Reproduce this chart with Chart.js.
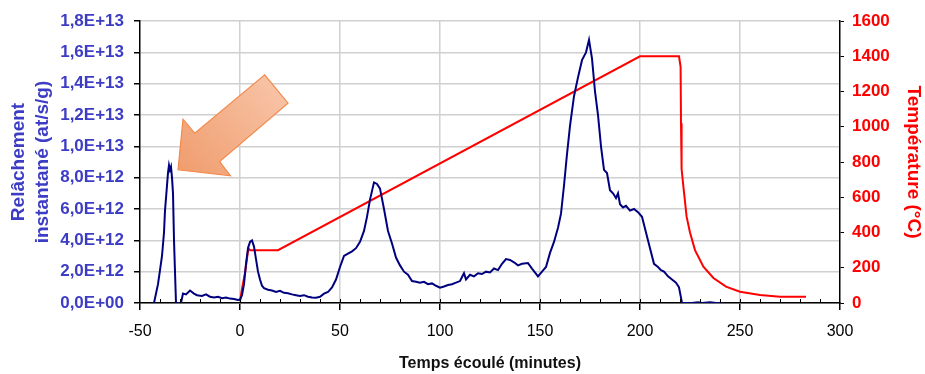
<!DOCTYPE html>
<html lang="fr">
<head>
<meta charset="UTF-8">
<title>Relâchement et température</title>
<script src="https://cdn.jsdelivr.net/npm/chart.js"></script>
<style>
  body { margin: 0; background: #fff; }
  canvas { display: block; }
</style>
</head>
<body>
<canvas id="chart" width="925" height="374"></canvas>
<script>
// temps (minutes) et relâchement instantané (at/s/g)
const tempsRel = [-43, -41, -40, -39, -38, -37.5, -36.5, -36, -35.5, -35, -34.5, -34, -33.5, -33, -32,
  -29.5, -28.5, -27, -25, -23, -21.5, -19, -17, -15, -13, -11, -9, -7, -5, -3, -1,
  0, 1, 2, 3, 4, 5, 6, 7, 8, 9, 10, 11, 12, 14, 16, 18, 20, 22, 24, 26, 28, 30, 32, 34, 36, 38,
  40, 42, 44, 46, 48, 50, 52, 54, 56, 58, 60, 62, 63.5, 65, 67, 68.5, 70, 72, 74, 76, 78,
  80, 82, 84, 86, 88, 90, 92, 94, 96, 98, 100, 102, 104, 106, 108, 110, 112, 113, 115, 117, 119,
  121, 123, 125, 127, 129, 131, 133, 135, 137, 139, 141, 144, 146, 149, 151, 153, 155, 157, 159,
  160.5, 162, 163.5, 165, 167, 169, 171, 173, 174.5, 176, 177.5, 179, 180.5, 182, 183.5, 185,
  186.5, 188, 189, 190, 191.5, 193, 195, 197, 199, 201, 203, 205, 207, 209, 210.5, 212, 214,
  216, 218, 219.5, 221, 226, 229, 231, 235, 238, 242];
const relachement = [0, 1.2e12, 2.1e12, 3.0e12, 4.5e12, 5.9e12, 7.5e12, 8.3e12, 8.8e12, 8.5e12, 8.7e12, 8.0e12, 7.0e12, 4.0e12, 0,
  0, 0.6e12, 0.55e12, 0.8e12, 0.6e12, 0.5e12, 0.45e12, 0.55e12, 0.4e12, 0.35e12, 0.4e12, 0.3e12, 0.35e12, 0.28e12, 0.25e12, 0.2e12,
  0.22e12, 0.5e12, 1.2e12, 2.5e12, 3.5e12, 3.9e12, 4.0e12, 3.6e12, 2.8e12, 2.0e12, 1.5e12, 1.1e12, 0.95e12, 0.85e12, 0.8e12, 0.7e12,
  0.78e12, 0.65e12, 0.62e12, 0.55e12, 0.5e12, 0.45e12, 0.5e12, 0.4e12, 0.35e12, 0.34e12,
  0.4e12, 0.6e12, 0.7e12, 1.0e12, 1.5e12, 2.3e12, 3.0e12, 3.15e12, 3.3e12, 3.5e12, 3.9e12, 4.6e12, 5.5e12, 6.6e12, 7.7e12, 7.6e12,
  7.3e12, 6.0e12, 4.6e12, 3.8e12, 2.9e12,
  2.4e12, 2.0e12, 1.8e12, 1.4e12, 1.35e12, 1.3e12, 1.35e12, 1.2e12, 1.25e12, 1.1e12, 0.98e12, 1.05e12, 1.15e12, 1.2e12, 1.3e12,
  1.4e12, 1.9e12, 1.5e12, 1.8e12, 1.7e12, 1.9e12,
  1.85e12, 2.0e12, 1.95e12, 2.2e12, 2.1e12, 2.5e12, 2.8e12, 2.75e12, 2.6e12, 2.4e12, 2.5e12, 2.55e12, 2.2e12, 1.7e12, 2.0e12,
  2.3e12, 3.2e12, 3.9e12, 4.8e12,
  5.7e12, 7.5e12, 9.5e12, 11.3e12, 13.2e12, 14.4e12, 15.5e12, 16.0e12, 16.8e12, 15.6e12, 13.5e12, 12.0e12, 10.0e12, 8.5e12,
  8.3e12, 7.2e12,
  7.0e12, 6.7e12, 7.0e12, 6.3e12, 6.1e12, 6.2e12, 5.9e12, 6.0e12, 5.8e12, 5.5e12, 4.5e12, 3.5e12, 2.5e12, 2.3e12, 2.1e12,
  2.0e12, 1.7e12,
  1.5e12, 1.3e12, 1.0e12, 0, 0, 0.05e12, 0, 0.05e12, 0, 0];

// temps (minutes) et température (°C)
const tempsTemp = [0, 1, 2.5, 4.2, 5, 19, 200, 219.5, 220.3, 220.5, 220.8, 221.7, 223.3, 225, 227.5,
  231.7, 236.7, 243, 250, 260, 270, 283];
const temperature = [10, 80, 170, 310, 300, 300, 1400, 1400, 1340, 1020, 760, 660, 490, 400, 300,
  206, 142, 93, 64, 45, 36, 36];

const xTicks = [-50, 0, 50, 100, 150, 200, 250, 300];

const bleu = '#3c3cc4';
const rouge = '#ff0000';

function sci(v) {
  const s = Number(v).toExponential(1).split('e');
  const exp = parseInt(s[1], 10);
  const sign = exp < 0 ? '-' : '+';
  const e = String(Math.abs(exp)).padStart(2, '0');
  return s[0].replace('.', ',') + 'E' + sign + e;
}

// flèche orange pointant le premier pic
const fleche = {
  id: 'fleche',
  afterDatasetsDraw(chart) {
    const c = chart.ctx;
    const xs = chart.scales.x, ys = chart.scales.y;
    const tx = xs.getPixelForValue(-31), ty = ys.getPixelForValue(8.5e12);
    const pts = [[0, 0], [5, -50.7], [16.7, -36.7], [86.7, -95], [110, -66.7], [41.7, -8.3], [52.4, 6]];
    c.save();
    const g = c.createLinearGradient(tx, ty, tx + 98, ty - 80);
    g.addColorStop(0, '#f09d6e');
    g.addColorStop(1, '#f7c2a4');
    c.beginPath();
    pts.forEach((p, i) => i ? c.lineTo(tx + p[0], ty + p[1]) : c.moveTo(tx + p[0], ty + p[1]));
    c.closePath();
    c.fillStyle = g;
    c.fill();
    c.strokeStyle = '#f28a4c';
    c.lineWidth = 1.2;
    c.stroke();
    c.restore();
  }
};

// petites graduations vers l'intérieur
const petitesGrad = {
  id: 'petitesGrad',
  afterDraw(chart) {
    const c = chart.ctx;
    const xs = chart.scales.x;
    const y0 = chart.chartArea.bottom;
    c.save();
    c.strokeStyle = '#000';
    c.lineWidth = 1;
    c.beginPath();
    for (let v = -40; v < 300; v += 10) {
      const px = Math.round(xs.getPixelForValue(v)) + 0.5;
      c.moveTo(px, y0);
      c.lineTo(px, y0 - 4);
    }
    c.stroke();
    c.restore();
  }
};

new Chart(document.getElementById('chart'), {
  type: 'line',
  data: {
    datasets: [
      {
        label: 'Relâchement',
        data: tempsRel.map((t, i) => ({ x: t, y: relachement[i] })),
        borderColor: '#00007f',
        borderWidth: 2,
        pointRadius: 0,
        tension: 0,
        yAxisID: 'y'
      },
      {
        label: 'Température',
        data: tempsTemp.map((t, i) => ({ x: t, y: temperature[i] })),
        borderColor: rouge,
        borderWidth: 2,
        pointRadius: 0,
        tension: 0,
        yAxisID: 'y1'
      }
    ]
  },
  options: {
    responsive: false,
    animation: false,
    devicePixelRatio: 1,
    layout: { padding: { top: 21, left: 0, right: 0, bottom: 0 } },
    plugins: { legend: { display: false }, tooltip: { enabled: false } },
    scales: {
      x: {
        type: 'linear',
        min: -50,
        max: 300,
        afterBuildTicks(scale) { scale.ticks = xTicks.map(v => ({ value: v })); },
        afterFit(scale) { scale.height = 71; },
        grid: {
          color: ctx => (ctx.tick && ctx.tick.value > -50 && ctx.tick.value < 300) ? '#d0d0d0' : 'rgba(0,0,0,0)',
          tickColor: '#000',
          tickLength: 7,
          lineWidth: 1.5
        },
        border: { color: '#000', width: 1.5 },
        ticks: {
          color: '#000',
          font: { family: 'Liberation Sans', size: 16 },
          padding: 12,
          maxRotation: 0,
          autoSkip: false,
          callback: v => String(v)
        },
        title: {
          display: true,
          text: 'Temps écoulé (minutes)',
          color: '#111',
          font: { family: 'Liberation Sans', size: 16, weight: 'bold' },
          padding: { top: 0, bottom: 1 }
        }
      },
      y: {
        position: 'left',
        min: 0,
        max: 1.8e13,
        afterFit(scale) { scale.width = 140; },
        ticks: {
          stepSize: 2e12,
          color: bleu,
          font: { family: 'Liberation Sans', size: 17, weight: 'bold' },
          padding: 10,
          callback: v => sci(v)
        },
        grid: { color: '#d0d0d0', tickColor: '#000', tickLength: 6, lineWidth: 1.5 },
        border: { color: '#000', width: 1.5 },
        title: {
          display: true,
          text: ['Relâchement', 'instantané (at/s/g)'],
          color: bleu,
          font: { family: 'Liberation Sans', size: 19, weight: 'bold', lineHeight: 1.25 },
          padding: { top: 7, bottom: 0 }
        }
      },
      y1: {
        position: 'right',
        min: 0,
        max: 1600,
        afterFit(scale) { scale.width = 85; },
        ticks: {
          stepSize: 200,
          color: rouge,
          font: { family: 'Liberation Sans', size: 17, weight: 'bold' },
          padding: 8,
          callback: v => String(v)
        },
        grid: { drawOnChartArea: false, tickColor: '#000', tickLength: 4 },
        border: { color: '#000', width: 1.5 },
        title: {
          display: true,
          text: 'Température (°C)',
          color: rouge,
          font: { family: 'Liberation Sans', size: 19, weight: 'bold', lineHeight: 1.25 },
          padding: { top: 0, bottom: 0 }
        }
      }
    }
  },
  plugins: [fleche, petitesGrad]
});
</script>
</body>
</html>
